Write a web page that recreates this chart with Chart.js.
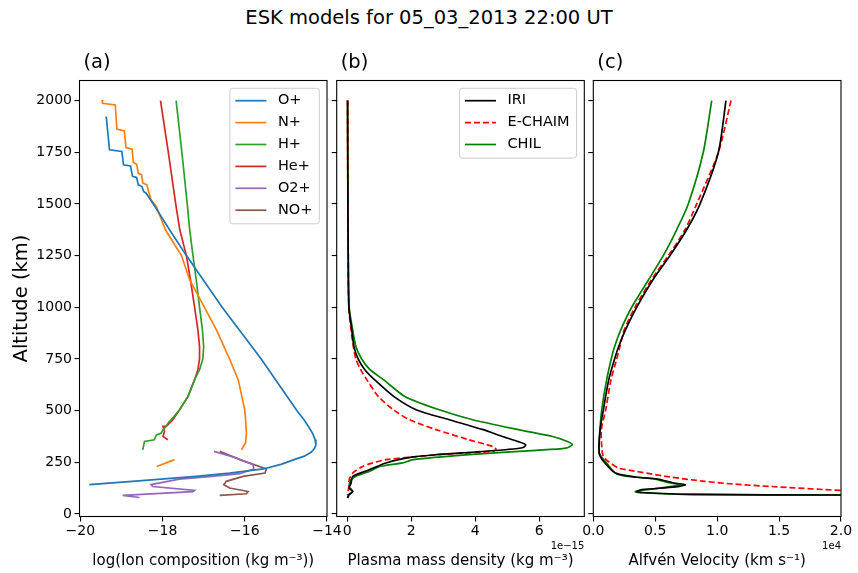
<!DOCTYPE html>
<html>
<head>
<meta charset="utf-8">
<script src="https://cdn.jsdelivr.net/npm/chart.js@4.4.0/dist/chart.umd.min.js"></script>
<style>
body { margin: 0; background: #fff; }
#wrap { position: relative; width: 858px; height: 573px; }
#wrap canvas { position: absolute; left: 0; top: 0; }
#title { position: absolute; left: 0; top: 6px; width: 858px; text-align: center;
         font: 19.5px/24px "DejaVu Sans"; color: #000; }
</style>
</head>
<body>
<div id="wrap">
  <div id="title">ESK models for 05_03_2013 22:00 UT</div>
  <canvas id="chartA" width="858" height="573"></canvas>
  <canvas id="chartB" width="858" height="573"></canvas>
  <canvas id="chartC" width="858" height="573"></canvas>
</div>
<script>
Chart.defaults.font.family = "'DejaVu Sans', sans-serif";
Chart.defaults.color = '#000';
Chart.defaults.animation = false;

// (a) ion composition, log10(kg m^-3) against altitude (km)
const altO  = [1923, 1762, 1754, 1689, 1684, 1633, 1628, 1592, 1584, 1560, 1552, 1504, 1375, 1250, 1000, 750, 500, 456, 420, 390, 360, 335, 315, 300, 280, 263, 240, 218, 198, 182, 158, 142];
const logO  = [-19.37, -19.29, -18.99, -18.95, -18.78, -18.73, -18.63, -18.59, -18.50, -18.46, -18.40, -18.24, -17.83, -17.42, -16.55, -15.60, -14.73, -14.56, -14.44, -14.35, -14.29, -14.27, -14.31, -14.38, -14.55, -14.80, -15.12, -15.55, -16.37, -17.18, -18.74, -19.78];
const altN  = [2003, 1987, 1979, 1862, 1853, 1773, 1765, 1700, 1692, 1649, 1641, 1601, 1592, 1560, 1520, 1487, 1375, 1250, 1132, 1000, 891, 750, 650, 503, 456, 392, 345, 311, 280, 263, 230];
const logN  = [-19.47, -19.46, -19.15, -19.11, -18.93, -18.89, -18.74, -18.71, -18.63, -18.59, -18.51, -18.48, -18.38, -18.34, -18.28, -18.15, -17.93, -17.54, -17.34, -16.98, -16.69, -16.37, -16.16, -16.00, -15.98, -15.96, -15.98, -16.08, null, -17.71, -18.14];
const altH  = [2000, 1750, 1500, 1375, 1250, 1132, 1000, 891, 810, 750, 698, 650, 569, 503, 456, 448, 421, 408, 392, 383, 359, 351, 311];
const logH  = [-17.67, -17.53, -17.40, -17.34, -17.26, -17.18, -17.10, -17.03, -17.00, -17.02, -17.10, -17.22, -17.38, -17.59, -17.79, -17.83, -17.93, -17.99, -18.03, -18.15, -18.20, -18.44, -18.48];
const altHe = [2000, 1750, 1500, 1375, 1250, 1132, 1000, 891, 810, 750, 698, 650, 569, 503, 456, 440, 424, 424, 400, 375, 359];
const logHe = [-18.05, -17.86, -17.68, -17.58, -17.42, -17.32, -17.22, -17.14, -17.10, -17.10, -17.14, -17.22, -17.38, -17.59, -17.75, -17.83, -17.91, -17.99, -17.95, -17.99, -17.87];
const altO2 = [303, 271, 238, 218, 195, 182, 169, 142, 133, 114, 108, 90, 80];
const logO2 = [-16.75, -16.20, -15.80, -15.78, -16.12, -16.80, -17.59, -18.28, -18.24, -17.22, -17.26, -18.97, -18.56];
const altNO = [303, 263, 218, 198, 182, 158, 142, 126, 109, 98, 90];
const logNO = [-16.61, -16.12, -15.47, -15.51, -16.04, -16.45, -16.51, -16.37, -15.92, -15.96, -16.61];

// (b) plasma mass density, units of 1e-15 kg m^-3
const altRhoIRI = [2000, 1500, 1250, 1000, 891, 810, 750, 698, 650, 569, 503, 456, 408, 375, 350, 335, 322, 312, 300, 287, 276, 247, 214, 182, 150, 126, 109, 93, 77];
const rhoIRI    = [0.01, 0.02, 0.03, 0.05, 0.14, 0.21, 0.34, 0.55, 0.85, 1.45, 2.17, 3.19, 4.25, 4.85, 5.35, 5.58, 5.50, 5.00, 4.00, 2.77, 2.06, 1.21, 0.69, 0.17, 0.12, 0.06, 0.17, 0.04, 0.01];
const altRhoECH = [2000, 1500, 1250, 1000, 891, 810, 750, 698, 650, 569, 503, 456, 408, 359, 327, 314, 303, 290, 275, 263, 245, 230, 198, 166, 133, 93];
const rhoECH    = [0.01, 0.02, 0.03, 0.05, 0.12, 0.19, 0.27, 0.42, 0.61, 0.97, 1.45, 1.95, 2.78, 3.81, 4.54, 4.65, 4.54, 3.10, 2.00, 1.21, 0.75, 0.48, 0.17, 0.06, 0.05, 0.01];
const altRhoCHIL = [2000, 1500, 1250, 1000, 891, 810, 750, 698, 650, 569, 503, 456, 408, 375, 350, 335, 319, 308, 287, 263, 247, 230, 206, 182, 166, 133, 109, 93, 77];
const rhoCHIL    = [0.01, 0.02, 0.03, 0.06, 0.17, 0.27, 0.45, 0.71, 1.13, 1.80, 2.90, 3.92, 5.35, 6.42, 6.90, 7.04, 6.83, 5.90, 3.81, 2.06, 1.73, 1.02, 0.69, 0.26, 0.12, 0.06, 0.17, 0.07, 0.01];

// (c) Alfven velocity, units of 1e4 km/s
const altVaIRI = [2000, 1750, 1500, 1375, 1250, 1132, 1000, 891, 810, 750, 650, 503, 408, 295, 254, 198, 179, 169, 150, 142, 131, 118, 109, 104, 95, 92, 88];
const vaIRI    = [1.071, 1.01, 0.862, 0.754, 0.619, 0.48, 0.35, 0.26, 0.205, 0.172, 0.125, 0.081, 0.055, 0.048, 0.084, 0.178, 0.34, 0.52, 0.65, 0.743, 0.662, 0.393, 0.35, 0.39, 0.797, 2.0, 4.0];
const altVaECH = [2000, 1750, 1500, 1375, 1250, 1132, 1000, 891, 810, 750, 650, 503, 408, 311, 279, 254, 222, 211, 198, 179, 158, 145, 133, 114, 100];
const vaECH    = [1.112, 1.01, 0.835, 0.740, 0.606, 0.468, 0.337, 0.25, 0.215, 0.189, 0.143, 0.10, 0.065, 0.07, 0.081, 0.121, 0.205, 0.30, 0.43, 0.62, 0.90, 1.13, 1.44, 2.0, 2.6];
const altVaCHIL = [2000, 1750, 1500, 1375, 1250, 1132, 1000, 891, 810, 750, 650, 503, 408, 295, 247, 194, 179, 169, 150, 142, 129, 114, 109, 104, 95, 92, 88];
const vaCHIL    = [0.956, 0.888, 0.767, 0.673, 0.565, 0.445, 0.31, 0.222, 0.172, 0.145, 0.108, 0.068, 0.054, 0.048, 0.108, 0.189, 0.337, 0.50, 0.62, 0.70, 0.579, 0.39, 0.339, 0.36, 0.74, 2.0, 4.0];

function pts(alts, vals) {
    return alts.map((a, i) => ({ x: vals[i], y: a }));
}

function line(label, alts, vals, color, dash, tension) {
    return {
        label: label,
        data: pts(alts, vals),
        borderColor: color,
        backgroundColor: color,
        borderWidth: 1.7,
        borderDash: dash || [],
        tension: tension || 0,
        showLine: true,
        pointRadius: 0,
        fill: false
    };
}

// frame, panel letter, offset text and legend box
const panelPlugin = {
    id: 'panel',
    afterDatasetsDraw(chart, args, opts) {
        const ctx = chart.ctx;
        const a = chart.chartArea;
        ctx.save();
        ctx.strokeStyle = '#000';
        ctx.lineWidth = 1.1;
        ctx.setLineDash([]);
        ctx.strokeRect(a.left, a.top, a.right - a.left, a.bottom - a.top);

        ctx.fillStyle = '#000';
        ctx.textBaseline = 'middle';
        ctx.textAlign = 'left';
        ctx.font = '19.5px "DejaVu Sans"';
        ctx.fillText(opts.letter, a.left + 4, a.top - 18);

        if (opts.offset) {
            ctx.font = '10px "DejaVu Sans"';
            ctx.textAlign = 'right';
            ctx.fillText(opts.offset, a.right, a.bottom + 30);
        }

        if (opts.legend) {
            const items = chart.data.datasets;
            ctx.font = '14.5px "DejaVu Sans"';
            const tw = Math.max(...items.map(d => ctx.measureText(d.label).width));
            const w = 48 + tw + 7;
            const h = 26 + (items.length - 1) * 21.9;
            const x0 = a.right - 7.7 - w;
            const y0 = a.top + 7.8;
            ctx.beginPath();
            ctx.roundRect(x0, y0, w, h, 3);
            ctx.fillStyle = 'rgba(255,255,255,0.8)';
            ctx.fill();
            ctx.strokeStyle = '#cccccc';
            ctx.lineWidth = 1;
            ctx.stroke();
            items.forEach((d, i) => {
                const y = y0 + 12.4 + i * 21.9;
                ctx.beginPath();
                ctx.strokeStyle = d.borderColor;
                ctx.lineWidth = d.borderWidth;
                ctx.setLineDash(d.borderDash);
                ctx.moveTo(x0 + 5.5, y);
                ctx.lineTo(x0 + 36.5, y);
                ctx.stroke();
                ctx.setLineDash([]);
                ctx.fillStyle = '#000';
                ctx.textAlign = 'left';
                ctx.fillText(d.label, x0 + 48, y);
            });
        }
        ctx.restore();
    }
};

function yScale(labels) {
    return {
        type: 'linear',
        position: 'left',
        min: -12,
        max: 2097,
        ticks: { stepSize: 250, includeBounds: false, display: labels, padding: 2.5,
                 font: { size: 14 }, color: '#000', callback: v => String(v) },
        grid: { drawOnChartArea: false, drawTicks: true, tickLength: 5, tickColor: '#000', lineWidth: 1.1 },
        border: { display: false },
        title: { display: labels, text: 'Altitude (km)', font: { size: 19.5 }, padding: 0, color: '#000' },
        afterFit: s => { s.width = labels ? 69.7 : 5; }
    };
}

function xScale(min, max, step, label, fmt) {
    return {
        type: 'linear',
        position: 'bottom',
        min: min,
        max: max,
        ticks: { stepSize: step, includeBounds: false, padding: 1, autoSkip: false, maxRotation: 0,
                 font: { size: 14 }, color: '#000', callback: fmt },
        grid: { drawOnChartArea: false, drawTicks: true, tickLength: 5, tickColor: '#000', lineWidth: 1.1 },
        border: { display: false },
        title: { display: true, text: label, font: { size: 15 }, padding: 0, color: '#000' },
        afterFit: s => { s.height = 54; }
    };
}

function makeChart(id, datasets, x, y, pad, panel) {
    return new Chart(document.getElementById(id), {
        type: 'scatter',
        data: { datasets: datasets },
        options: {
            responsive: false,
            animation: false,
            layout: { padding: pad },
            scales: { x: x, y: y },
            plugins: { legend: { display: false }, tooltip: { enabled: false }, panel: panel }
        },
        plugins: [panelPlugin]
    });
}

const minus = v => (v < 0 ? '\u2212' + Math.abs(v) : String(v));

makeChart('chartA', [
    line('O+', altO, logO, '#1f77b4'),
    line('N+', altN, logN, '#ff7f0e'),
    line('H+', altH, logH, '#2ca02c'),
    line('He+', altHe, logHe, '#d62728'),
    line('O2+', altO2, logO2, '#9467bd'),
    line('NO+', altNO, logNO, '#8c564b')
], xScale(-20.02, -14.0, 2, 'log(Ion composition (kg m\u207B\u00B3))', minus), yScale(true),
   { left: 9.8, right: 531, top: 80.5, bottom: 2.5 }, { letter: '(a)', legend: true });

makeChart('chartB', [
    line('IRI', altRhoIRI, rhoIRI, '#000000', null, 0.25),
    line('E-CHAIM', altRhoECH, rhoECH, '#ff0000', [6, 3], 0.25),
    line('CHIL', altRhoCHIL, rhoCHIL, '#008000', null, 0.25)
], xScale(-0.33, 7.41, 2, 'Plasma mass density (kg m\u207B\u00B3)', v => String(v)), yScale(false),
   { left: 331.7, right: 273.7, top: 80.5, bottom: 2.5 }, { letter: '(b)', legend: true, offset: '1e\u221215' });

makeChart('chartC', [
    line('IRI', altVaIRI, vaIRI, '#000000', null, 0.25),
    line('E-CHAIM', altVaECH, vaECH, '#ff0000', [6, 3], 0.25),
    line('CHIL', altVaCHIL, vaCHIL, '#008000', null, 0.25)
], xScale(0, 2.0, 0.5, 'Alfv\u00E9n Velocity (km s\u207B\u00B9)', v => v.toFixed(1)), yScale(false),
   { left: 588.3, right: 17, top: 80.5, bottom: 2.5 }, { letter: '(c)', legend: false, offset: '1e4' });
</script>
</body>
</html>
